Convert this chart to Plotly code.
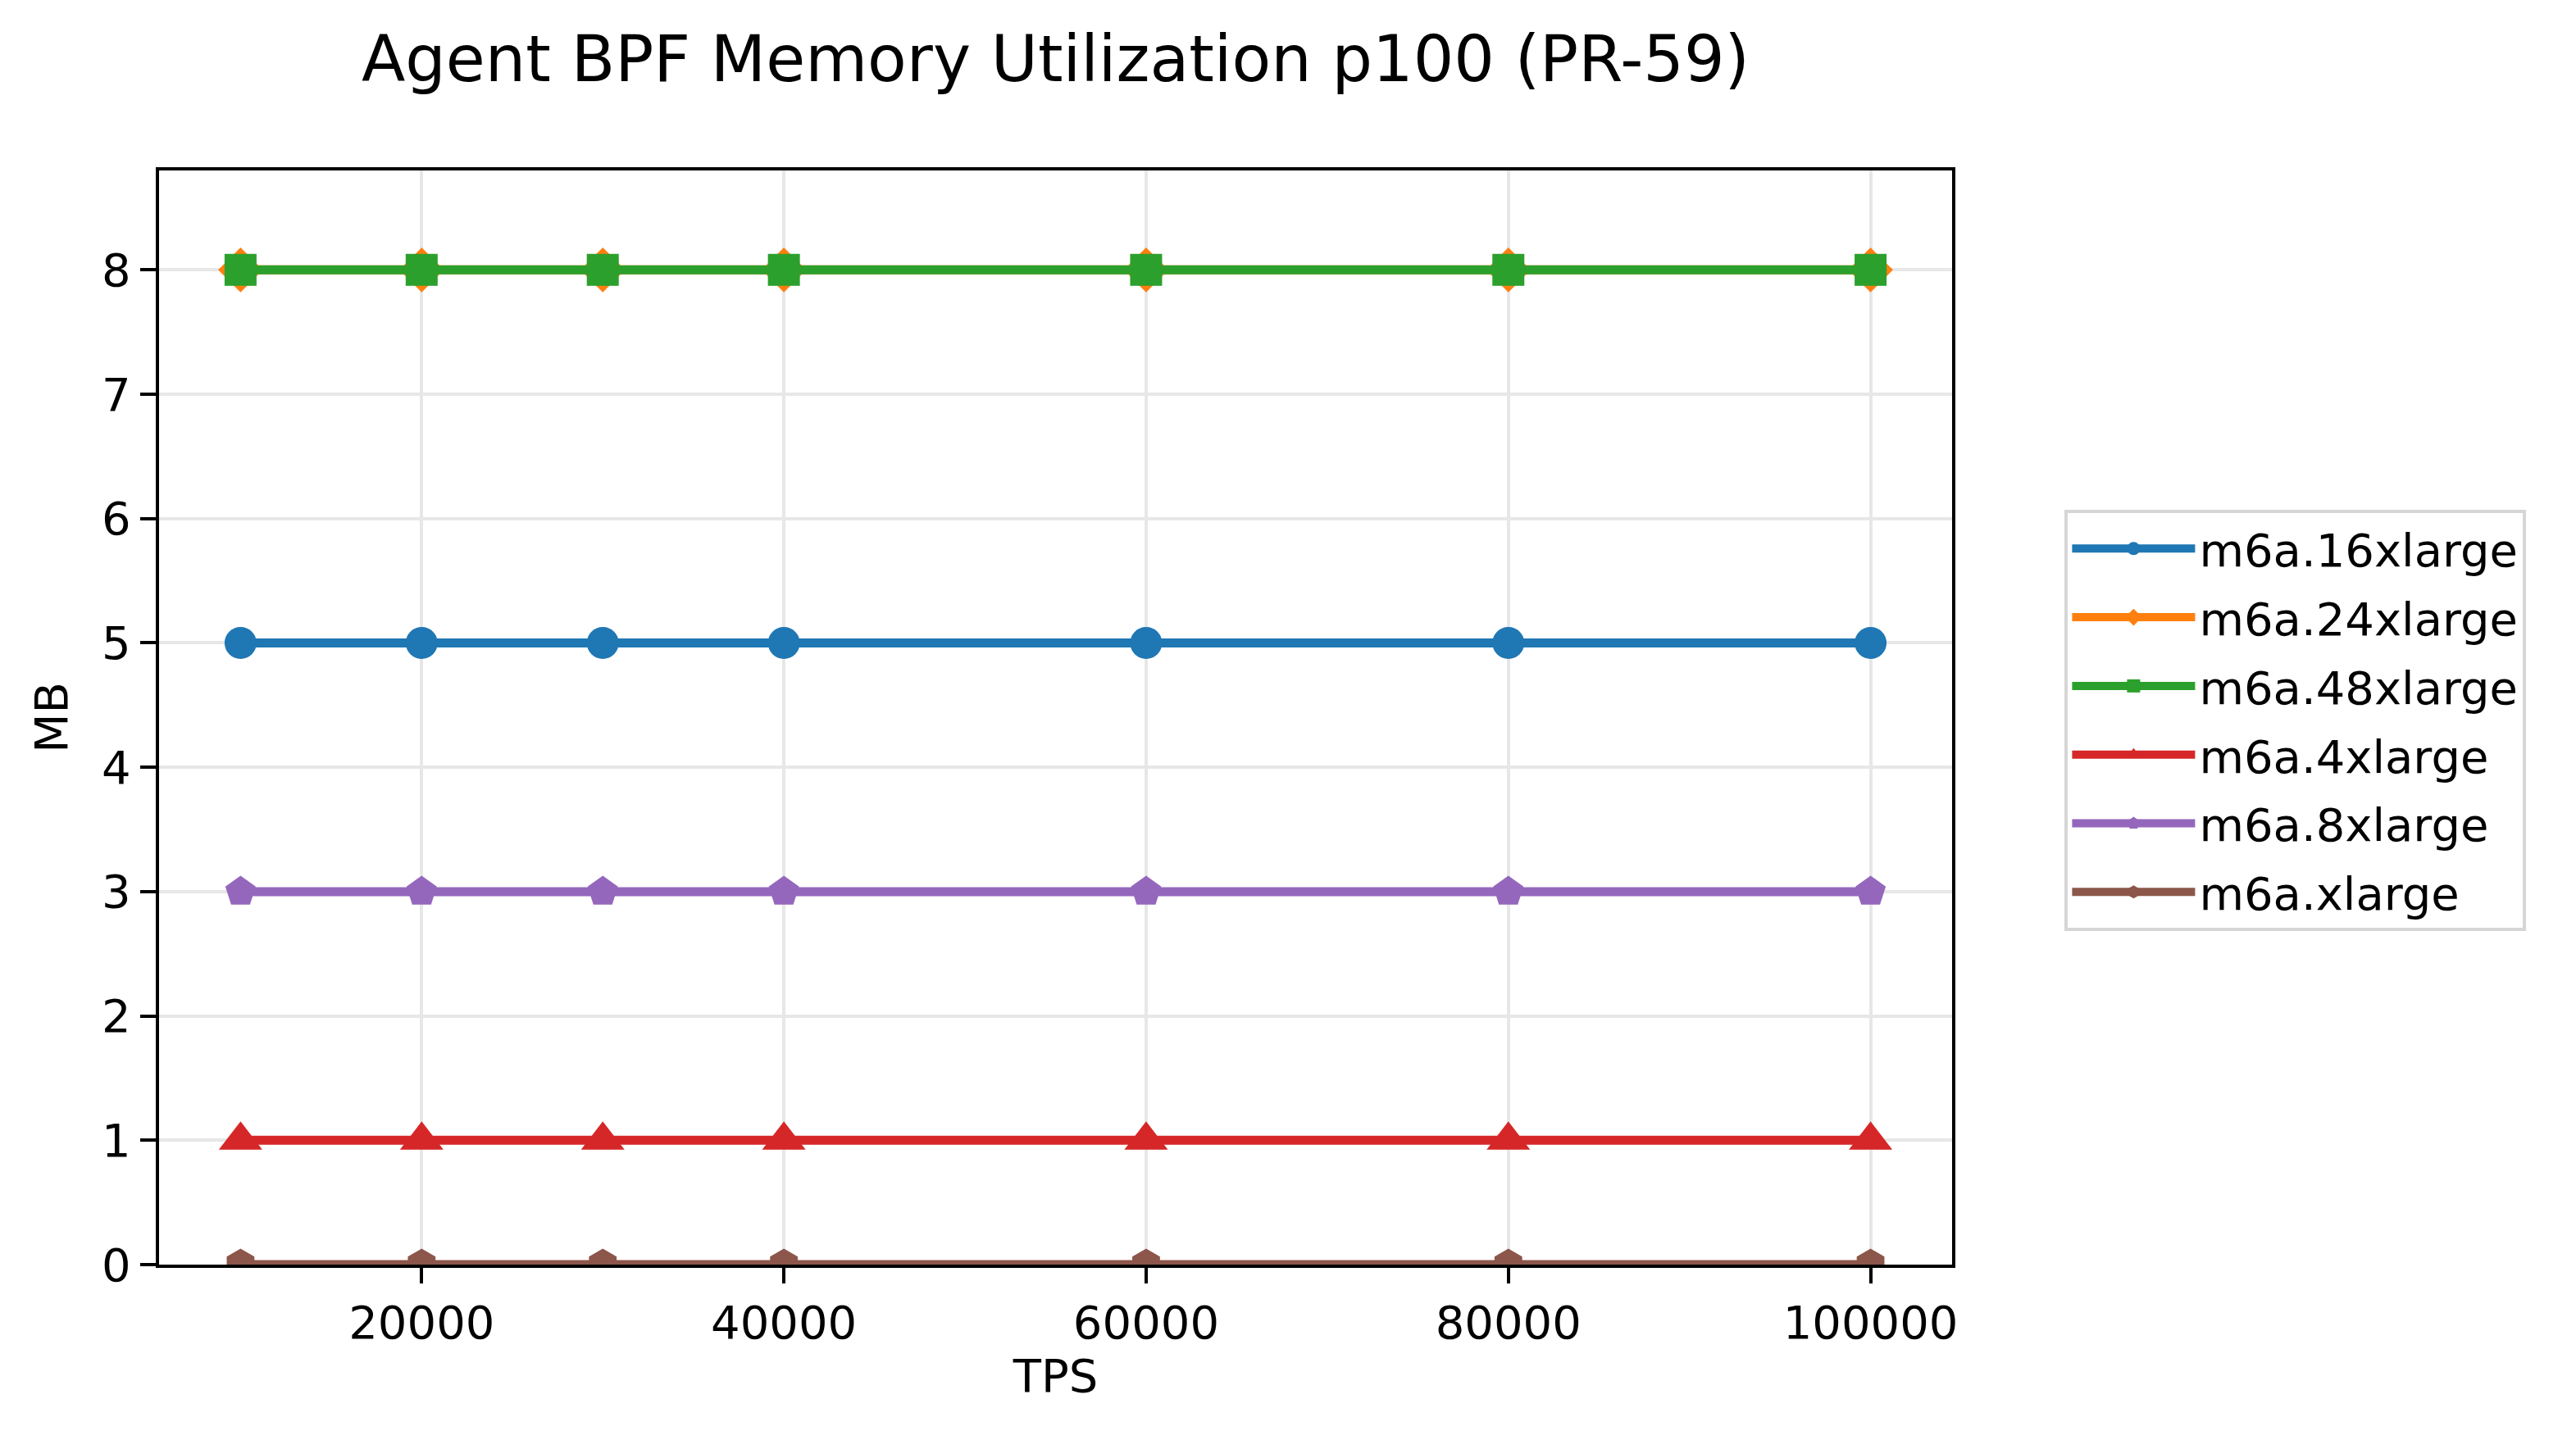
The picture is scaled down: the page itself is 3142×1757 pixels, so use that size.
import plotly.graph_objects as go

tps = [10000, 20000, 30000, 40000, 60000, 80000, 100000]
instances = ["m6a.16xlarge", "m6a.24xlarge", "m6a.48xlarge", "m6a.4xlarge", "m6a.8xlarge", "m6a.xlarge"]
mem_16x = [5, 5, 5, 5, 5, 5, 5]
mem_24x = [8, 8, 8, 8, 8, 8, 8]
mem_48x = [8, 8, 8, 8, 8, 8, 8]
mem_4x = [1, 1, 1, 1, 1, 1, 1]
mem_8x = [3, 3, 3, 3, 3, 3, 3]
mem_x = [0, 0, 0, 0, 0, 0, 0]
series = [mem_16x, mem_24x, mem_48x, mem_4x, mem_8x, mem_x]

colors = ["#1f77b4", "#ff7f0e", "#2ca02c", "#d62728", "#9467bd", "#8c564b"]
symbols = ["circle", "diamond", "square", "triangle-up", "pentagon", "hexagon"]
sizes = [39, 42, 39, 46, 39, 39]

OFF = 8  # page body margin
W, H = 3142 - 2 * OFF, 1757 - 2 * OFF
PL, PR, PT, PB = 194 - OFF, 2381 - OFF, 208 - OFF, 1543 - OFF
L, R, T, B = PL, W - PR, PT, H - PB
PW, PH = PR - PL, PB - PT

fig = go.Figure()
for name, vals, c, s, sz in zip(instances, series, colors, symbols, sizes):
    fig.add_trace(go.Scatter(
        x=tps, y=vals, name=name, mode="lines+markers", legendgroup=name,
        line=dict(color=c, width=11),
        marker=dict(symbol=s, size=sz, color=c, line=dict(width=0)),
    ))

font = "DejaVu Sans, Liberation Sans, sans-serif"
axis_common = dict(
    showline=True, linecolor="black", linewidth=4.4, mirror=True,
    ticks="outside", ticklen=19, tickwidth=4.4, tickcolor="black",
    showgrid=True, gridcolor="#e7e7e7", gridwidth=4,
    zeroline=False, tickfont=dict(family=font, size=56, color="black"),
)

fig.update_layout(
    width=W, height=H,
    margin=dict(l=L, r=R, t=T, b=B, autoexpand=False),
    paper_bgcolor="white", plot_bgcolor="white",
    font=dict(family=font, color="black", size=56),
    title=dict(text="Agent BPF Memory Utilization p100 (PR-59)",
               font=dict(family=font, size=78, color="black"),
               x=(PL + PR) / 2 / W, xanchor="center", xref="container",
               y=1 - (72 - OFF) / H, yanchor="middle"),
    xaxis=dict(range=[5500, 104500], tickvals=[20000, 40000, 60000, 80000, 100000],
               tickformat="d",
               title=dict(text="TPS", font=dict(family=font, size=56, color="black"), standoff=12),
               automargin=False, **axis_common),
    yaxis=dict(range=[0, 8.8], tickvals=[0, 1, 2, 3, 4, 5, 6, 7, 8],
               title=dict(text="MB", font=dict(family=font, size=56, color="black"), standoff=24),
               automargin=False, **axis_common),
    legend=dict(x=(2518 - OFF - PL) / PW, xanchor="left", y=(PB - (622 - OFF)) / PH, yanchor="top",
                bordercolor="#d6d6d6", borderwidth=4.4, bgcolor="white",
                font=dict(family=font, size=56, color="black"),
                itemwidth=150, tracegroupgap=8),
    showlegend=True,
)

fig.write_html("out.html")
